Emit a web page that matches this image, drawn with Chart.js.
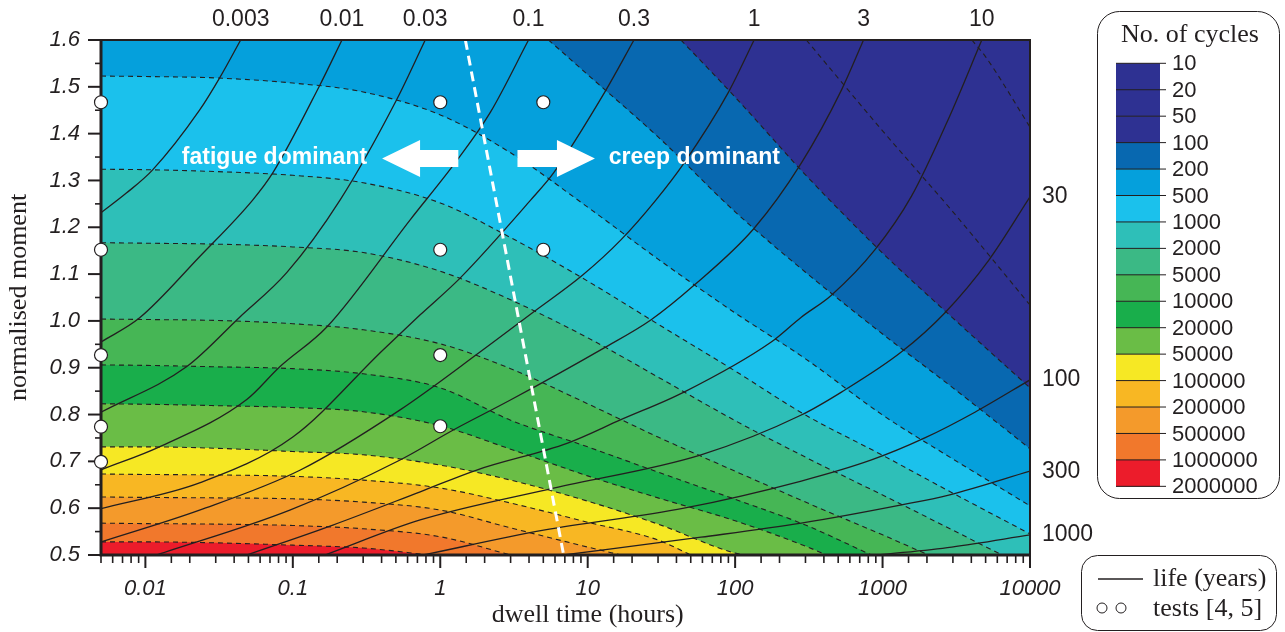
<!DOCTYPE html>
<html>
<head>
<meta charset="utf-8">
<title>No. of cycles against dwell time and moment</title>
<script src="https://cdn.jsdelivr.net/npm/chart.js@4.4.1/dist/chart.umd.min.js"></script>
<style>
	body{margin:0;background:#fff;}
	canvas{display:block;}
</style>
</head>
<body>
<canvas id="cycles-chart" width="1285" height="632"></canvas>
<script>
'use strict';

// contour boundaries of the number of cycles: [dwell time (hours), normalised moment]
const bound20 = [[4030,1.6],[5000,1.564],[10000,1.414]];
const bound50 = [[304,1.6],[1000,1.406],[3000,1.233],[10000,1.034]];
const bound100 = [[42.9,1.6],[100,1.478],[300,1.312],[1000,1.145],[3000,1.006],[10000,0.857]];
const bound200 = [[5.43,1.6],[10,1.526],[30,1.393],[100,1.233],[300,1.104],[1000,0.972],[3000,0.857],[10000,0.727]];
const bound500 = [[0.005,1.523],[0.01,1.522],[0.03,1.519],[0.1,1.508],[0.3,1.489],[1,1.440],[3,1.359],[10,1.243],[30,1.132],[100,1.017],[300,0.919],[1000,0.799],[3000,0.705],[10000,0.605]];
const bound1000 = [[0.005,1.324],[0.01,1.323],[0.03,1.319],[0.1,1.311],[0.3,1.295],[1,1.252],[3,1.178],[10,1.085],[30,0.993],[100,0.893],[300,0.799],[1000,0.713],[3000,0.632],[10000,0.545]];
const bound2000 = [[0.005,1.167],[0.01,1.166],[0.03,1.164],[0.1,1.158],[0.3,1.146],[1,1.106],[3,1.045],[10,0.964],[30,0.880],[100,0.787],[300,0.709],[1000,0.628],[3000,0.553],[6450,0.5]];
const bound5000 = [[0.005,1.004],[0.01,1.003],[0.03,1.001],[0.1,0.994],[0.3,0.981],[1,0.951],[3,0.898],[10,0.823],[30,0.752],[100,0.679],[300,0.613],[1000,0.543],[2050,0.5]];
const bound1e4 = [[0.005,0.906],[0.01,0.905],[0.03,0.902],[0.1,0.898],[0.3,0.887],[1,0.857],[3,0.788],[10,0.731],[30,0.677],[100,0.619],[300,0.564],[840,0.5]];
const bound2e4 = [[0.005,0.823],[0.01,0.822],[0.03,0.819],[0.1,0.815],[0.3,0.806],[1,0.776],[3,0.726],[10,0.669],[30,0.622],[100,0.573],[300,0.519],[416,0.5]];
const bound5e4 = [[0.005,0.731],[0.01,0.731],[0.03,0.728],[0.1,0.721],[0.3,0.714],[1,0.692],[3,0.660],[10,0.615],[30,0.566],[100,0.504],[119,0.5]];
const bound1e5 = [[0.005,0.673],[0.01,0.672],[0.03,0.671],[0.1,0.668],[0.3,0.660],[1,0.643],[3,0.611],[10,0.570],[30,0.532],[50,0.5]];
const bound2e5 = [[0.005,0.624],[0.01,0.623],[0.03,0.622],[0.1,0.620],[0.3,0.613],[1,0.596],[3,0.558],[10,0.517],[16.8,0.5]];
const bound5e5 = [[0.005,0.568],[0.01,0.567],[0.03,0.566],[0.1,0.563],[0.3,0.556],[1,0.539],[3,0.5]];
const bound1e6 = [[0.005,0.528],[0.01,0.528],[0.03,0.526],[0.1,0.521],[0.3,0.515],[0.85,0.5]];

// life curves (years)
const life0003 = [[0.005,1.231],[0.00743,1.273],[0.01116,1.322],[0.0233,1.450],[0.0319,1.519],[0.0443,1.6]];
const life001 = [[0.005,0.955],[0.0091,1.006],[0.0233,1.137],[0.0534,1.258],[0.0731,1.316],[0.1527,1.504],[0.2155,1.6]];
const life003 = [[0.005,0.805],[0.019,0.902],[0.0436,1.008],[0.0909,1.103],[0.209,1.258],[0.509,1.474],[0.791,1.6]];
const life01 = [[0.005,0.682],[0.01245,0.731],[0.0487,0.832],[0.0816,0.902],[0.170,0.987],[0.625,1.216],[1.305,1.344],[2.19,1.446],[3.97,1.6]];
const life03 = [[0.005,0.599],[0.0233,0.654],[0.1,0.752],[0.409,0.938],[0.731,1.013],[1.368,1.092],[4.10,1.258],[5.87,1.316],[13.3,1.493],[20.6,1.6]];
const life1 = [[0.005,0.528],[0.0233,0.596],[0.1116,0.681],[0.534,0.810],[1.87,0.934],[4.29,1.019],[9.25,1.098],[16.8,1.173],[29.0,1.258],[45.0,1.337],[89.6,1.487],[134.6,1.6]];
const life3 = [[0.01188,0.5],[0.0954,0.596],[0.534,0.703],[1.226,0.767],[2.99,0.831],[12.85,0.942],[26.8,1.002],[52.6,1.076],[134.6,1.198],[281,1.337],[526,1.493],[743,1.6]];
const life10 = [[0.0487,0.5],[0.187,0.564],[0.731,0.635],[1.786,0.682],[7.31,0.739],[16.8,0.789],[45.0,0.848],[175.8,0.955],[281,1.008],[450,1.055],[883,1.151],[1575,1.267],[2812,1.433],[4710,1.6]];
const life30 = [[0.165,0.5],[0.731,0.575],[5.87,0.643],[58.7,0.714],[281,0.799],[526,0.848],[1346,0.934],[2641,1.017],[5260,1.130],[10000,1.265]];
const life100 = [[0.766,0.5],[5.02,0.553],[45.0,0.600],[281,0.658],[841,0.703],[1933,0.750],[4229,0.805],[10000,0.874]];
const life300 = [[6.87,0.5],[58.7,0.538],[281,0.568],[1346,0.607],[2812,0.628],[10000,0.679]];
const life1000 = [[940,0.5],[2944,0.517],[10000,0.543]];
const lifeCurves = [life0003,life001,life003,life01,life03,life1,life3,life10,life30,life100,life300,life1000];
const lifeLabels = ['0.003','0.01','0.03','0.1','0.3','1','3','10','30','100','300','1000'];

// tests [4, 5]
const testDwell = [0.005,0.005,0.005,0.005,0.005,1,1,1,1,5,5];
const testMoment = [1.467,1.152,0.927,0.774,0.699,1.467,1.152,0.927,0.775,1.467,1.152];

// fatigue / creep divide
const divideDwell = [1.48,6.87];
const divideMoment = [1.6,0.5];

const xTickLabels = ['0.01','0.1','1','10','100','1000','10000'];
const cycleLabels = ['10','20','50','100','200','500','1000','2000','5000','10000','20000','50000','100000','200000','500000','1000000','2000000'];
const bandColors = ['#2e3192','#2e3192','#2e3192','#0868b0','#05a0dc','#1bc1ec','#2ebfb8','#3bb985','#46b655','#19ae4b','#6abd46','#f6e824','#f8b723','#f49a2b','#f1782c','#ec1c2b'];

const ink = '#231f20';
const sans = '"Liberation Sans", Arial, sans-serif';
const serif = '"Liberation Serif", "Times New Roman", serif';

const toXY = pts => pts.map(([x, y]) => ({x, y}));

function contour(label, pts, fill, color, order){
	return {
		label, order,
		data: toXY(pts),
		fill: fill || false,
		backgroundColor: color || 'transparent',
		borderColor: ink, borderWidth: 1.1, borderDash: [5, 4],
		pointRadius: 0, cubicInterpolationMode: 'monotone'
	};
}

const datasets = [
	contour('1000', bound1000, 'end', bandColors[5], 60),
	contour('500', bound500, 'end', bandColors[4], 59),
	contour('200', bound200, 'end', bandColors[3], 58),
	contour('100', bound100, 'end', bandColors[2], 57),
	contour('50', bound50, false, null, 56),
	contour('20', bound20, false, null, 55),
	contour('2000', bound2000, 'start', bandColors[7], 54),
	contour('5000', bound5000, 'start', bandColors[8], 53),
	contour('10000', bound1e4, 'start', bandColors[9], 52),
	contour('20000', bound2e4, 'start', bandColors[10], 51),
	contour('50000', bound5e4, 'start', bandColors[11], 50),
	contour('100000', bound1e5, 'start', bandColors[12], 49),
	contour('200000', bound2e5, 'start', bandColors[13], 48),
	contour('500000', bound5e5, 'start', bandColors[14], 47),
	contour('1000000', bound1e6, 'start', bandColors[15], 46)
];
lifeCurves.forEach((pts, i) => datasets.push({
	label: 'life ' + lifeLabels[i], order: 10,
	data: toXY(pts), fill: false,
	borderColor: ink, borderWidth: 1.3,
	pointRadius: 0, cubicInterpolationMode: 'monotone'
}));
datasets.push({
	label: 'divide', order: 5,
	data: divideDwell.map((x, i) => ({x, y: divideMoment[i]})),
	fill: false, borderColor: '#ffffff', borderWidth: 3, borderDash: [10, 6], pointRadius: 0
});
datasets.push({
	type: 'scatter', label: 'tests', order: 1, clip: false,
	data: testDwell.map((x, i) => ({x, y: testMoment[i]})),
	pointRadius: 6.5, pointBackgroundColor: '#ffffff', pointBorderColor: ink, pointBorderWidth: 1.2
});

function isDecade(v){
	return Math.abs(Math.log10(v) - Math.round(Math.log10(v))) < 1e-6;
}

function drawFrame(chart){
	const {ctx, chartArea: a, scales: {x, y}} = chart;
	ctx.save();
	ctx.strokeStyle = ink;
	ctx.lineCap = 'butt';
	x.ticks.forEach(t => {
		const px = x.getPixelForValue(t.value);
		const major = t.label !== '';
		ctx.lineWidth = major ? 2 : 1.6;
		ctx.beginPath(); ctx.moveTo(px, a.bottom); ctx.lineTo(px, a.bottom + (major ? 13 : 8)); ctx.stroke();
	});
	y.ticks.forEach(t => {
		const py = y.getPixelForValue(t.value);
		const major = t.label !== '';
		ctx.lineWidth = major ? 2 : 1.6;
		ctx.beginPath(); ctx.moveTo(a.left, py); ctx.lineTo(a.left - (major ? 13 : 6), py); ctx.stroke();
	});
	ctx.lineWidth = 2;
	ctx.beginPath();
	ctx.moveTo(a.left, a.top); ctx.lineTo(a.right, a.top); ctx.lineTo(a.right, a.bottom);
	ctx.stroke();
	ctx.lineWidth = 3;
	ctx.beginPath();
	ctx.moveTo(a.left, a.top - 1); ctx.lineTo(a.left, a.bottom); ctx.lineTo(a.right + 1, a.bottom);
	ctx.stroke();
	ctx.restore();
}

function blockArrow(ctx, xTail, xTip, yc){
	const dir = Math.sign(xTip - xTail), xBase = xTip - dir * 38;
	ctx.beginPath();
	ctx.moveTo(xTail, yc - 8.5); ctx.lineTo(xBase, yc - 8.5); ctx.lineTo(xBase, yc - 18.5);
	ctx.lineTo(xTip, yc); ctx.lineTo(xBase, yc + 18.5); ctx.lineTo(xBase, yc + 8.5);
	ctx.lineTo(xTail, yc + 8.5); ctx.closePath(); ctx.fill();
}

const decorations = {
	id: 'decorations',
	beforeDatasetsDraw(chart){
		const {ctx, chartArea: a} = chart;
		ctx.save();
		ctx.fillStyle = bandColors[6];
		ctx.fillRect(a.left, a.top, a.right - a.left, a.bottom - a.top);
		ctx.restore();
	},
	beforeDatasetDraw(chart, args){
		if(chart.data.datasets[args.index].label === 'tests'){
			drawFrame(chart);
		}
	},
	afterDraw(chart){
		const {ctx, chartArea: a, scales: {x, y}} = chart;
		ctx.save();

		// life labels at the curve ends
		ctx.fillStyle = ink;
		ctx.font = '23px ' + sans;
		ctx.textBaseline = 'middle';
		lifeCurves.forEach((pts, i) => {
			const [t, m] = pts[pts.length - 1];
			if(m >= 1.6){
				ctx.textAlign = 'center';
				ctx.fillText(lifeLabels[i], x.getPixelForValue(t), a.top - 20);
			}else{
				ctx.textAlign = 'left';
				ctx.fillText(lifeLabels[i], a.right + 12, y.getPixelForValue(m));
			}
		});

		// x axis title
		ctx.textAlign = 'center';
		ctx.font = '26px ' + serif;
		ctx.fillText('dwell time (hours)', x.getPixelForValue(10), 615);

		// regime labels and arrows
		const yc = y.getPixelForValue(1.347);
		ctx.fillStyle = '#ffffff';
		ctx.font = 'bold 23px ' + sans;
		ctx.textAlign = 'right';
		ctx.fillText('fatigue dominant', x.getPixelForValue(0.319), yc - 1);
		ctx.textAlign = 'left';
		ctx.fillText('creep dominant', x.getPixelForValue(13.9), yc - 1);
		blockArrow(ctx, x.getPixelForValue(1.326), x.getPixelForValue(0.403), yc);
		blockArrow(ctx, x.getPixelForValue(3.34), x.getPixelForValue(11.2), yc);

		// colour bar legend
		ctx.strokeStyle = ink;
		ctx.lineWidth = 1;
		ctx.beginPath(); ctx.roundRect(1097.5, 11.5, 182, 487, 22); ctx.stroke();
		ctx.fillStyle = ink;
		ctx.font = '26px ' + serif;
		ctx.textAlign = 'center';
		ctx.fillText('No. of cycles', 1190, 35);
		const barTop = 63.3, step = 26.44;
		bandColors.forEach((c, i) => {
			ctx.fillStyle = c;
			ctx.fillRect(1116, barTop + i * step, 44, step + 0.4);
		});
		ctx.font = '22px ' + sans;
		ctx.textAlign = 'left';
		ctx.fillStyle = ink;
		cycleLabels.forEach((lab, i) => {
			const py = barTop + i * step;
			ctx.beginPath(); ctx.moveTo(1116, py); ctx.lineTo(1166, py); ctx.stroke();
			ctx.fillText(lab, 1172, py + 1);
		});

		// line / marker legend
		ctx.beginPath(); ctx.roundRect(1081.5, 555.5, 195, 75, 16); ctx.stroke();
		ctx.lineWidth = 1.3;
		ctx.beginPath(); ctx.moveTo(1098, 579); ctx.lineTo(1143, 579); ctx.stroke();
		ctx.lineWidth = 1;
		[1102, 1121].forEach(cx => {
			ctx.beginPath(); ctx.arc(cx, 608, 5, 0, Math.PI * 2); ctx.stroke();
		});
		ctx.font = '26px ' + serif;
		ctx.fillText('life (years)', 1153, 579);
		ctx.fillText('tests [4, 5]', 1153, 609);
		ctx.restore();
	}
};

new Chart(document.getElementById('cycles-chart'), {
	type: 'line',
	data: {datasets},
	plugins: [decorations],
	options: {
		responsive: false,
		animation: false,
		devicePixelRatio: 1,
		events: [],
		layout: {padding: {top: 40, right: 255, bottom: 0, left: 0}},
		plugins: {legend: {display: false}, tooltip: {enabled: false}},
		scales: {
			x: {
				type: 'logarithmic', min: 0.005, max: 10000,
				afterFit: scale => { scale.height = 77; },
				border: {display: false},
				grid: {drawOnChartArea: false, drawTicks: true, tickLength: 13, color: 'rgba(0,0,0,0)'},
				ticks: {
					autoSkip: false, maxRotation: 0, minRotation: 0, padding: 8,
					color: ink, font: {family: sans, size: 22, style: 'italic'},
					callback: v => isDecade(v) ? xTickLabels[Math.round(Math.log10(v)) + 2] : ''
				}
			},
			y: {
				type: 'linear', min: 0.5, max: 1.6,
				afterFit: scale => { scale.width = 101; },
				border: {display: false},
				grid: {drawOnChartArea: false, drawTicks: true, tickLength: 13, color: 'rgba(0,0,0,0)'},
				title: {display: true, text: 'normalised moment', color: ink, font: {family: serif, size: 26, lineHeight: 1}, padding: {top: 6, bottom: 0}},
				ticks: {
					stepSize: 0.05, autoSkip: false, padding: 8,
					color: ink, font: {family: sans, size: 22, style: 'italic'},
					callback: v => Math.round(v * 100) % 10 === 0 ? v.toFixed(1) : ''
				}
			}
		}
	}
});
</script>
</body>
</html>
